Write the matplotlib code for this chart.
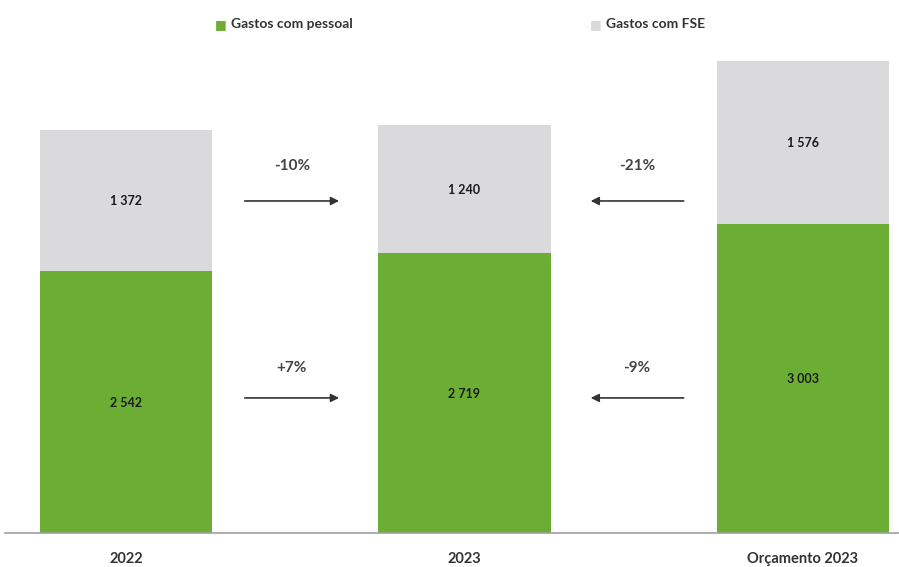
import matplotlib.pyplot as plt
import numpy as np

plt.rcParams['font.family'] = ['Lato', 'DejaVu Sans']

categories = ['2022', '2023', 'Orçamento 2023']
pessoal = [2542, 2719, 3003]
fse = [1372, 1240, 1576]
# variação face a 2023: (bar de origem, texto)
var_fse = [(0, '-10%'), (2, '-21%')]
var_pessoal = [(0, '+7%'), (2, '-9%')]

GREEN = '#6cae34'
GREY = '#dad9dc'


def fmt(v):
    return '{:,}'.format(v).replace(',', ' ')


fig = plt.figure(figsize=(8.99, 5.67), dpi=100)
ax = fig.add_axes([0.0056, 0.060, 0.9944, 0.8695])

x = np.arange(len(categories))
w = 0.51
ax.bar(x, pessoal, width=w, color=GREEN, label='Gastos com pessoal')
ax.bar(x, fse, width=w, bottom=pessoal, color=GREY, label='Gastos com FSE')

for i in range(len(categories)):
    ax.text(x[i], pessoal[i] / 2, fmt(pessoal[i]), ha='center', va='center_baseline',
            fontsize=9, fontweight='bold', color='#1a1a1a')
    ax.text(x[i], pessoal[i] + fse[i] / 2, fmt(fse[i]), ha='center', va='center_baseline',
            fontsize=9, fontweight='bold', color='#1a1a1a')

ax.set_xlim(-0.357, 2.284)
ax.set_ylim(0, 4786)


def arrow(src, y_arrow, y_text, label):
    # seta entre a barra de origem e a barra de 2023
    if src < 1:
        x0, x1 = 0.343, 0.638
    else:
        x0, x1 = 1.656, 1.365
    ax.annotate('', xy=(x1, y_arrow), xytext=(x0, y_arrow),
                arrowprops=dict(arrowstyle='-|>', color='#333333', lw=1.2,
                                mutation_scale=12))
    ax.text((x0 + x1) / 2, y_text, label, ha='center', va='center',
            fontsize=11, fontweight='bold', color='#444444')


for src, lab in var_fse:
    arrow(src, 3223, 3563, lab)
for src, lab in var_pessoal:
    arrow(src, 1311, 1602, lab)

for s in ['top', 'right', 'left']:
    ax.spines[s].set_visible(False)
ax.spines['bottom'].set_color('#a0a0a0')
ax.spines['bottom'].set_linewidth(1.2)
ax.set_yticks([])
ax.set_xticks(x)
ax.set_xticklabels(categories, fontsize=10.5, fontweight='bold', color='#333333')
ax.tick_params(axis='x', length=0, pad=14)

# legenda no topo
fig.text(0.246, 0.958, '■', color=GREEN, fontsize=9, ha='center', va='center')
fig.text(0.257, 0.958, 'Gastos com pessoal', fontsize=10, fontweight='bold',
         color='#333333', ha='left', va='center')
fig.text(0.663, 0.958, '■', color=GREY, fontsize=9, ha='center', va='center')
fig.text(0.674, 0.958, 'Gastos com FSE', fontsize=10, fontweight='bold',
         color='#333333', ha='left', va='center')

fig.savefig('out.png', dpi=100, facecolor='white')
